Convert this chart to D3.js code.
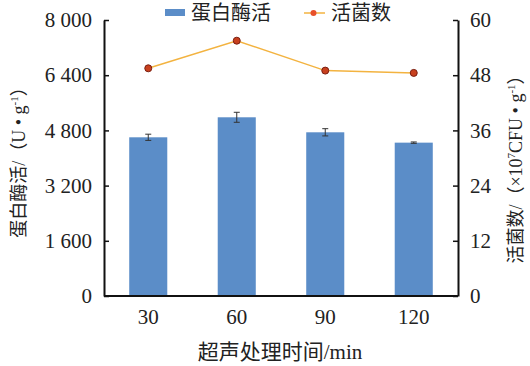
<!DOCTYPE html>
<html><head><meta charset="utf-8">
<script src="https://cdn.jsdelivr.net/npm/d3@7"></script>
<style>
html,body{margin:0;padding:0;background:#fff;}
text{font-family:"Liberation Serif","Times New Roman","Noto Sans CJK SC",serif;fill:#222;}
</style></head>
<body>
<svg id="chart" width="530" height="366"></svg>
<script>
const categories = ["30", "60", "90", "120"];
const proteaseActivity = [4600, 5180, 4745, 4445];
const proteaseError = [90, 145, 105, 20];
const viableCount = [49.5, 55.5, 49.0, 48.5];
const leftTicks = [0, 1600, 3200, 4800, 6400, 8000];
const leftTickLabels = ["0", "1 600", "3 200", "4 800", "6 400", "8 000"];
const rightTicks = [0, 12, 24, 36, 48, 60];
const seriesNames = ["蛋白酶活", "活菌数"];

const svg = d3.select("#chart");
const m = {l:104, r:458, t:20, b:296};
const cjk = '"Liberation Serif","Noto Sans CJK SC",serif';

const x = d3.scaleBand().domain(categories).range([m.l, m.r]).paddingInner(0.57).paddingOuter(0.285);
const yL = d3.scaleLinear().domain([0, 8000]).range([m.b, m.t]);
const yR = d3.scaleLinear().domain([0, 60]).range([m.b, m.t]);

// bars
svg.append("g").selectAll("rect").data(categories).join("rect")
  .attr("x", d => x(d)).attr("width", x.bandwidth())
  .attr("y", (d,i) => yL(proteaseActivity[i]))
  .attr("height", (d,i) => yL(0) - yL(proteaseActivity[i]))
  .attr("fill", "#5b8dc8");

// error bars
const eb = svg.append("g").attr("stroke", "#333").attr("stroke-width", 1);
categories.forEach((c,i) => {
  const cx = x(c) + x.bandwidth()/2;
  const y1 = yL(proteaseActivity[i] + proteaseError[i]);
  const y2 = yL(proteaseActivity[i] - proteaseError[i]);
  eb.append("line").attr("x1", cx).attr("x2", cx).attr("y1", y1).attr("y2", y2);
  eb.append("line").attr("x1", cx-3).attr("x2", cx+3).attr("y1", y1).attr("y2", y1);
  eb.append("line").attr("x1", cx-3).attr("x2", cx+3).attr("y1", y2).attr("y2", y2);
});

// line
const line = d3.line().x((d,i) => x(categories[i]) + x.bandwidth()/2).y(d => yR(d));
svg.append("path").datum(viableCount).attr("d", line)
  .attr("fill", "none").attr("stroke", "#f3b340").attr("stroke-width", 1.5);
svg.append("g").selectAll("circle").data(viableCount).join("circle")
  .attr("cx", (d,i) => x(categories[i]) + x.bandwidth()/2)
  .attr("cy", d => yR(d)).attr("r", 3.5)
  .attr("fill", "#c8401e").attr("stroke", "#7a1e10").attr("stroke-width", 1);

// axes
const axL = d3.axisLeft(yL).tickValues(leftTicks).tickFormat((d,i) => leftTickLabels[i]).tickSizeInner(-5).tickSizeOuter(0).tickPadding(12);
const gL = svg.append("g").attr("transform", `translate(${m.l},0)`).call(axL);
const axR = d3.axisRight(yR).tickValues(rightTicks).tickSizeInner(-5).tickSizeOuter(0).tickPadding(12);
const gR = svg.append("g").attr("transform", `translate(${m.r},0)`).call(axR);
const axB = d3.axisBottom(x).tickSize(0).tickPadding(12);
const gB = svg.append("g").attr("transform", `translate(0,${m.b})`).call(axB);
[gL, gR, gB].forEach(g => {
  g.select(".domain").attr("stroke", "#111").attr("stroke-width", 2);
  g.selectAll(".tick line").attr("stroke", "#111").attr("stroke-width", 1.5);
  g.selectAll(".tick text").style("font-family", '"Liberation Serif","Times New Roman",serif').style("font-size", "21px").attr("fill", "#222");
});
gB.select(".domain").attr("d", `M${m.l},0H${m.r}`);
gB.selectAll(".tick text").attr("dy", "0.75em");

// axis titles
svg.append("text").attr("transform", "translate(25,158) rotate(-90)")
  .attr("text-anchor", "middle").style("font-family", cjk).style("font-size", "18px")
  .call(t => {
    t.append("tspan").text("蛋白酶活/（U • g");
    t.append("tspan").attr("dy", "-7").style("font-size", "11px").text("-1");
    t.append("tspan").attr("dy", "7").text("）");
  });
svg.append("text").attr("transform", "translate(522,165) rotate(-90)")
  .attr("text-anchor", "middle").style("font-family", cjk).style("font-size", "18px")
  .call(t => {
    t.append("tspan").text("活菌数/（×10");
    t.append("tspan").attr("dy", "-7").style("font-size", "11px").text("7");
    t.append("tspan").attr("dy", "7").text("CFU • g");
    t.append("tspan").attr("dy", "-7").style("font-size", "11px").text("-1");
    t.append("tspan").attr("dy", "7").text("）");
  });
svg.append("text").attr("x", 280).attr("y", 359).attr("text-anchor", "middle")
  .style("font-family", cjk).style("font-size", "21px").text("超声处理时间/min");

// legend
svg.append("rect").attr("x", 165).attr("y", 9).attr("width", 20).attr("height", 7).attr("fill", "#5b8dc8");
svg.append("text").attr("x", 191).attr("y", 20).style("font-family", cjk).style("font-size", "20px").text(seriesNames[0]);
svg.append("line").attr("x1", 304).attr("x2", 325).attr("y1", 13).attr("y2", 13).attr("stroke", "#f3b340").attr("stroke-width", 1.5);
svg.append("circle").attr("cx", 313.5).attr("cy", 13).attr("r", 3).attr("fill", "#e8502a");
svg.append("text").attr("x", 331).attr("y", 20).style("font-family", cjk).style("font-size", "20px").text(seriesNames[1]);
</script>
</body></html>
